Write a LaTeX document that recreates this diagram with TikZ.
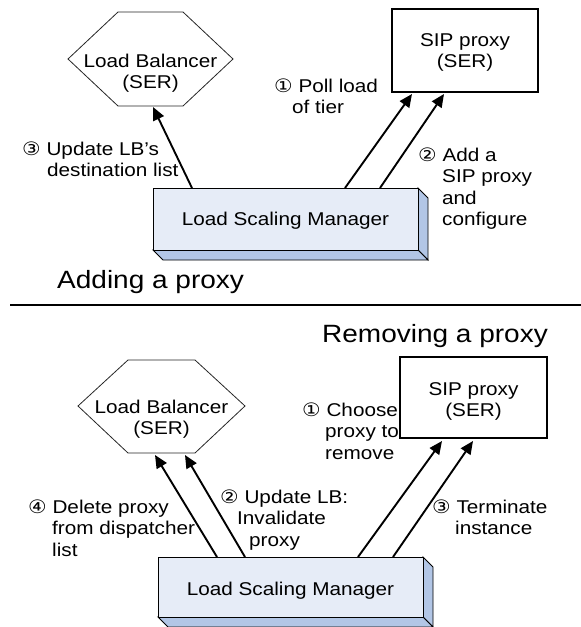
\documentclass[tikz,border=0pt]{standalone}
\usepackage{fontspec}
\setmainfont[FakeStretch=1.12]{Liberation Sans}
\newfontfamily\circfont[FakeStretch=1.12]{DejaVu Sans}
\usetikzlibrary{arrows.meta}
\definecolor{boxfront}{RGB}{230,236,247}
\definecolor{boxside}{RGB}{178,198,230}
\newcommand{\cn}[1]{{\circfont #1}}
\newcommand{\lab}[1]{\begin{tabular}[t]{@{}l@{}}#1\end{tabular}}
\newcommand{\clab}[1]{\begin{tabular}[t]{@{}c@{}}#1\end{tabular}}
\begin{document}
\begin{tikzpicture}[x=1pt,y=-1pt,
  font=\fontsize{18.5}{21.5}\selectfont,
  lbl/.style={anchor=base west, inner sep=0pt},
  ctext/.style={anchor=base, inner sep=0pt},
  hexshape/.style={draw=black!85, line width=0.8pt, fill=white},
  sipbox/.style={draw=black, line width=1.8pt, fill=white},
  front/.style={draw=black, line width=0.9pt, fill=boxfront},
  side/.style={draw=black, line width=0.9pt, fill=boxside},
  flow/.style={line width=1.9pt, -{Triangle[length=13pt,width=11.5pt]}},
  title/.style={anchor=base west, inner sep=0pt, font=\fontsize{25}{30}\selectfont}]
\useasboundingbox (0,0) rectangle (581,627);

% ---------------- Adding a proxy ----------------
\draw[hexshape] (68,59) -- (118,12) -- (183,12) -- (233,59) -- (183,106) -- (118,106) -- cycle;
\node[ctext] (lbA) at (150.5,67) {\clab{Load Balancer\\(SER)}};

\draw[sipbox] (392,9) rectangle (538,92);
\node[ctext] (sipA) at (465,46) {\clab{SIP proxy\\(SER)}};

\draw[side] (418,188) -- (428,198) -- (428,260) -- (418,250) -- cycle;
\draw[side] (153,250) -- (418,250) -- (428,260) -- (163,260) -- cycle;
\draw[front] (153,188) rectangle (418,250);
\node[ctext] (lsmA) at (285.5,225) {Load Scaling Manager};

\coordinate (a3s) at (192,188);
\coordinate (a3e) at (153,107);
\coordinate (a1s) at (345,188);
\coordinate (a1e) at (412,94);
\coordinate (a2s) at (380,188);
\coordinate (a2e) at (444,94);
\draw[flow] (a3s) -- (a3e);
\draw[flow] (a1s) -- (a1e);
\draw[flow] (a2s) -- (a2e);

\node[lbl] (t3A) at (22,155) {\lab{\cn{③} Update LB’s\\\hspace*{25pt}destination list}};
\node[lbl] (t1A) at (274,92) {\lab{\cn{①} Poll load\\\hspace*{18pt}of tier}};
\node[lbl] (t2A) at (418,161) {\lab{\cn{②} Add a\\\hspace*{24pt}SIP proxy\\\hspace*{24pt}and\\\hspace*{24pt}configure}};

\node[title] (tadd) at (57,288) {Adding a proxy};

\draw[line width=2pt] (10,305) coordinate (sepL) -- (581,305) coordinate (sepR);

% ---------------- Removing a proxy ----------------
\node[title] (trem) at (322,342) {Removing a proxy};

\draw[hexshape] (78,406) -- (128,360) -- (195,360) -- (245,406) -- (195,453) -- (128,453) -- cycle;
\node[ctext] (lbB) at (161.5,413) {\clab{Load Balancer\\(SER)}};

\draw[sipbox] (400,357) rectangle (547,438);
\node[ctext] (sipB) at (473.5,395) {\clab{SIP proxy\\(SER)}};

\draw[side] (423,557) -- (433,567) -- (433,627) -- (423,617) -- cycle;
\draw[side] (158,617) -- (423,617) -- (433,627) -- (168,627) -- cycle;
\draw[front] (158,557) rectangle (423,617);
\node[ctext] (lsmB) at (290.5,595) {Load Scaling Manager};

\coordinate (b4s) at (217,557);
\coordinate (b4e) at (155,455);
\coordinate (b2s) at (245,557);
\coordinate (b2e) at (185,455);
\coordinate (b1s) at (358,557);
\coordinate (b1e) at (442,441);
\coordinate (b3s) at (393,557);
\coordinate (b3e) at (473,441);
\draw[flow] (b4s) -- (b4e);
\draw[flow] (b2s) -- (b2e);
\draw[flow] (b1s) -- (b1e);
\draw[flow] (b3s) -- (b3e);

\node[lbl] (t4B) at (28,513) {\lab{\cn{④} Delete proxy\\\hspace*{24pt}from dispatcher\\\hspace*{24pt}list}};
\node[lbl] (t2B) at (220,503) {\lab{\cn{②} Update LB:\\\hspace*{17pt}Invalidate\\\hspace*{29pt}proxy}};
\node[lbl] (t1B) at (302,416) {\lab{\cn{①} Choose\\\hspace*{23pt}proxy to\\\hspace*{23pt}remove}};
\node[lbl] (t3B) at (432,513) {\lab{\cn{③} Terminate\\\hspace*{23pt}instance}};
\end{tikzpicture}
\end{document}
